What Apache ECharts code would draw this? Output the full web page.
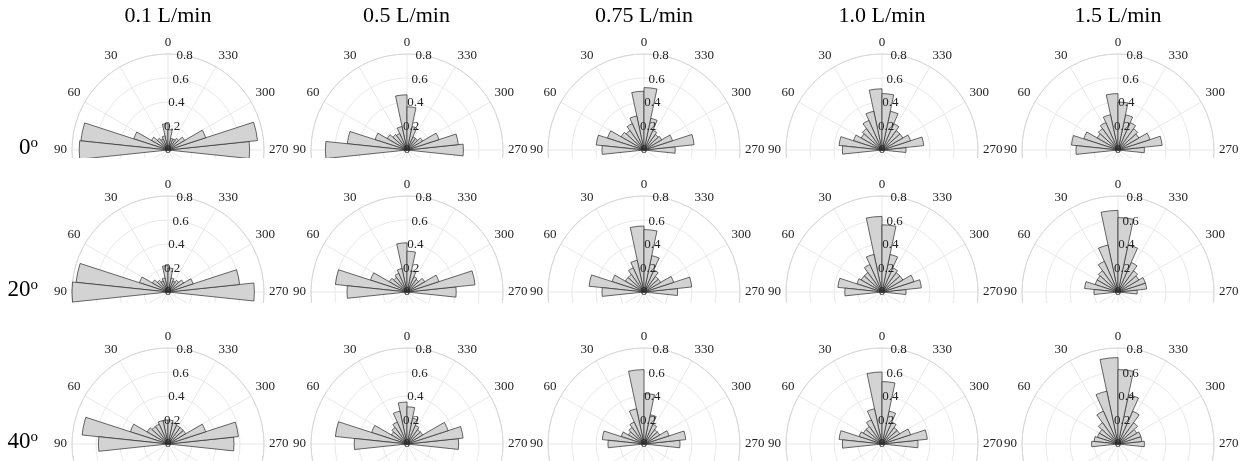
<!DOCTYPE html>
<html>
<head>
<meta charset="utf-8">
<script src="https://cdn.jsdelivr.net/npm/echarts@6/dist/echarts.min.js"></script>
<style>
  body { margin: 0; background: #fff; }
  #bg { position: absolute; left: 0; top: 0; width: 1254px; height: 461px; }
  .panel { position: absolute; }
</style>
</head>
<body>
<div id="bg"></div>
<script>
var flowRates = ['0.1 L/min', '0.5 L/min', '0.75 L/min', '1.0 L/min', '1.5 L/min'];
var tilts = ['0', '20', '40'];
// bin centres (deg, counter-clockwise from top), 12 deg bins, right side to left side
var binAngles = [270, 282, 294, 306, 318, 330, 342, 354, 6, 18, 30, 42, 54, 66, 78, 90];
var radiusTicks = [0, 0.2, 0.4, 0.6, 0.8];

// relative frequency per bin, same order as binAngles
var tilt0_q01  = [0.68, 0.75, 0.33, 0.16, 0.12, 0.10, 0.10, 0.17, 0.22, 0.12, 0.10, 0.12, 0.16, 0.30, 0.73, 0.74];
var tilt0_q05  = [0.47, 0.43, 0.28, 0.15, 0.12, 0.12, 0.20, 0.36, 0.46, 0.20, 0.15, 0.16, 0.19, 0.28, 0.50, 0.68];
var tilt0_q075 = [0.26, 0.42, 0.25, 0.17, 0.16, 0.18, 0.27, 0.52, 0.49, 0.29, 0.24, 0.20, 0.22, 0.32, 0.40, 0.35];
var tilt0_q10  = [0.20, 0.35, 0.25, 0.20, 0.20, 0.24, 0.33, 0.47, 0.51, 0.33, 0.27, 0.22, 0.20, 0.25, 0.36, 0.33];
var tilt0_q15  = [0.22, 0.37, 0.28, 0.20, 0.22, 0.25, 0.30, 0.40, 0.47, 0.30, 0.25, 0.22, 0.20, 0.30, 0.39, 0.35];

var tilt20_q01  = [0.72, 0.60, 0.22, 0.15, 0.12, 0.10, 0.12, 0.20, 0.22, 0.12, 0.10, 0.12, 0.15, 0.25, 0.77, 0.80];
var tilt20_q05  = [0.41, 0.57, 0.28, 0.17, 0.13, 0.14, 0.18, 0.34, 0.41, 0.20, 0.17, 0.15, 0.17, 0.32, 0.60, 0.50];
var tilt20_q075 = [0.28, 0.40, 0.26, 0.16, 0.16, 0.20, 0.31, 0.52, 0.55, 0.27, 0.22, 0.18, 0.18, 0.28, 0.46, 0.35];
var tilt20_q10  = [0.20, 0.33, 0.28, 0.20, 0.20, 0.22, 0.32, 0.56, 0.63, 0.32, 0.25, 0.20, 0.20, 0.22, 0.37, 0.31];
var tilt20_q15  = [0.16, 0.24, 0.24, 0.20, 0.22, 0.27, 0.40, 0.62, 0.68, 0.40, 0.28, 0.22, 0.20, 0.20, 0.28, 0.20];

var tilt40_q01  = [0.55, 0.59, 0.33, 0.17, 0.17, 0.17, 0.18, 0.20, 0.20, 0.20, 0.18, 0.18, 0.20, 0.33, 0.72, 0.58];
var tilt40_q05  = [0.43, 0.47, 0.36, 0.15, 0.15, 0.17, 0.22, 0.31, 0.35, 0.28, 0.20, 0.17, 0.15, 0.31, 0.60, 0.44];
var tilt40_q075 = [0.30, 0.35, 0.22, 0.15, 0.15, 0.18, 0.25, 0.42, 0.62, 0.30, 0.20, 0.17, 0.15, 0.20, 0.35, 0.30];
var tilt40_q10  = [0.30, 0.38, 0.25, 0.17, 0.17, 0.20, 0.28, 0.52, 0.60, 0.30, 0.22, 0.18, 0.18, 0.20, 0.36, 0.33];
var tilt40_q15  = [0.22, 0.20, 0.20, 0.18, 0.22, 0.30, 0.42, 0.62, 0.72, 0.45, 0.30, 0.22, 0.18, 0.18, 0.20, 0.22];

var panels = [
  [tilt0_q01, tilt0_q05, tilt0_q075, tilt0_q10, tilt0_q15],
  [tilt20_q01, tilt20_q05, tilt20_q075, tilt20_q10, tilt20_q15],
  [tilt40_q01, tilt40_q05, tilt40_q075, tilt40_q10, tilt40_q15]
];

var colX = [168, 406.5, 644, 882, 1118];
var rowY = [150, 292, 444];
var rowCrop = [158, 303, 461];
var R = 96;
var serif = "'Liberation Serif', 'Times New Roman', serif";

// titles and row labels
var bg = echarts.init(document.getElementById('bg'));
var texts = [];
flowRates.forEach(function (name, i) {
  texts.push({
    type: 'text', x: colX[i], y: 16.5,
    style: { text: name, fill: '#000', fontSize: 22, fontFamily: serif, align: 'center', verticalAlign: 'middle' }
  });
});
tilts.forEach(function (t, j) {
  texts.push({
    type: 'text', x: 38, y: rowY[j] - 2,
    style: {
      text: '{n|' + t + '}{s|o}',
      align: 'right', verticalAlign: 'middle',
      rich: {
        n: { fontSize: 23, fontFamily: serif, fill: '#000', lineHeight: 24 },
        s: { fontSize: 15, fontFamily: serif, fill: '#000', verticalAlign: 'top', lineHeight: 24, padding: [0, 0, 6, 0] }
      }
    }
  });
});
bg.setOption({ animation: false, graphic: texts });

function panelOption(values) {
  var barData = [];
  var cats = [];
  for (var i = 0; i < 30; i++) { barData.push(null); cats.push(i * 12 + '-' + (i * 12 + 12)); }
  binAngles.forEach(function (a, k) {
    barData[Math.round((a - 6) / 12) % 30] = values[k];
  });
  var c = [125, 125];
  return {
    animation: false,
    backgroundColor: 'transparent',
    polar: [
      { center: c, radius: R },
      { center: c, radius: R },
      { center: c, radius: R }
    ],
    angleAxis: [
      {
        polarIndex: 0, type: 'value', min: 0, max: 360, interval: 30,
        startAngle: 90, clockwise: false,
        axisLine: { lineStyle: { color: '#d6d6d6', width: 1 } },
        axisTick: { show: false },
        axisLabel: {
          margin: 5, color: '#222', fontFamily: serif, fontSize: 13,
          formatter: function (v) { return v === 360 ? '' : String(v); }
        },
        splitLine: { show: true, lineStyle: { color: '#e8e8e8', width: 1 } }
      },
      { polarIndex: 1, type: 'category', data: cats, startAngle: 90, clockwise: false, show: false },
      { polarIndex: 2, type: 'value', min: 0, max: 360, startAngle: 80, clockwise: false, show: false }
    ],
    radiusAxis: [
      {
        polarIndex: 0, type: 'value', min: 0, max: 0.8, interval: 0.2,
        axisLine: { show: false }, axisTick: { show: false }, axisLabel: { show: false },
        splitLine: { show: true, lineStyle: { color: '#e8e8e8', width: 1 } }
      },
      { polarIndex: 1, type: 'value', min: 0, max: 0.8, show: false },
      {
        polarIndex: 2, type: 'value', min: 0, max: 0.8, interval: 0.2, z: 10,
        axisLine: { show: false }, axisTick: { show: false }, splitLine: { show: false },
        axisLabel: {
          margin: 0, align: 'center', verticalAlign: 'middle',
          color: '#222', fontFamily: serif, fontSize: 13,
          formatter: function (v) { return radiusTicks.indexOf(+v.toFixed(1)) >= 0 ? String(+v.toFixed(1)) : ''; }
        }
      }
    ],
    series: [{
      type: 'bar', coordinateSystem: 'polar', polarIndex: 1,
      data: barData, barCategoryGap: '0%',
      itemStyle: { color: '#d3d3d3', borderColor: '#2a2a2a', borderWidth: 0.7 }
    }]
  };
}

panels.forEach(function (row, j) {
  row.forEach(function (vals, i) {
    var d = document.createElement('div');
    d.className = 'panel';
    d.style.left = (colX[i] - 125) + 'px';
    d.style.top = (rowY[j] - 125) + 'px';
    d.style.width = '250px';
    d.style.height = (rowCrop[j] - rowY[j] + 125) + 'px';
    document.body.appendChild(d);
    var chart = echarts.init(d);
    chart.setOption(panelOption(vals));
  });
});
</script>
</body>
</html>
